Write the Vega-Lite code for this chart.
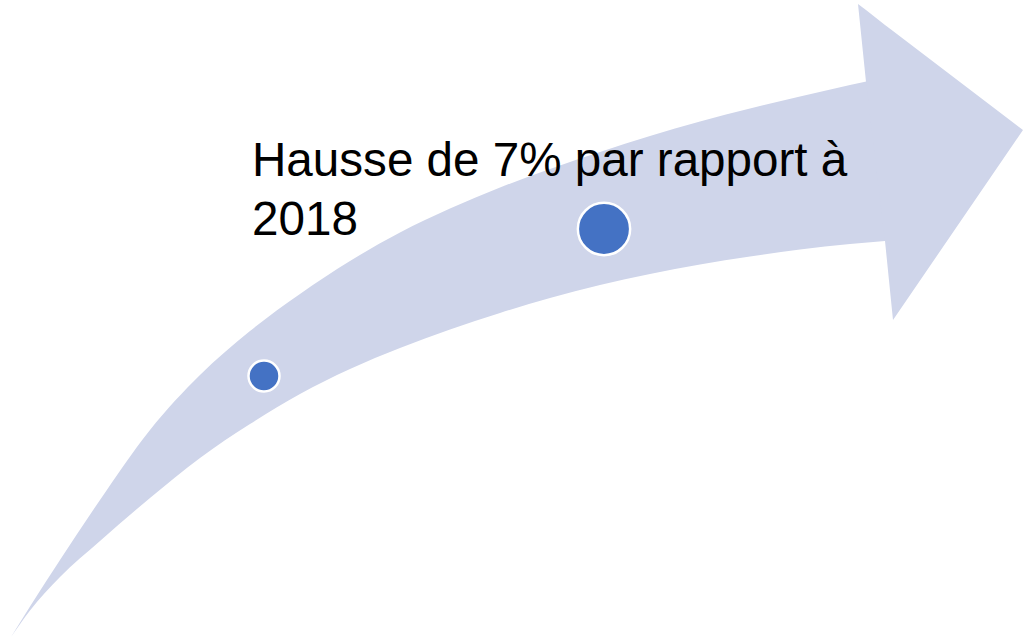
{
  "$schema": "https://vega.github.io/schema/vega-lite/v6.json",
  "width": 1025,
  "height": 638,
  "padding": 0,
  "autosize": {"type": "none"},
  "background": "white",
  "config": {"view": {"stroke": null}},
  "datasets": {
    "body": [
      {"x": 11, "top": 1, "bottom": 1},
      {"x": 30, "top": 31.4, "bottom": 27.6},
      {"x": 60, "top": 78, "bottom": 61},
      {"x": 100, "top": 138, "bottom": 97},
      {"x": 150, "top": 208, "bottom": 140},
      {"x": 200, "top": 263, "bottom": 180},
      {"x": 250, "top": 307, "bottom": 214},
      {"x": 300, "top": 344, "bottom": 244},
      {"x": 350, "top": 377, "bottom": 269},
      {"x": 400, "top": 405.5, "bottom": 290},
      {"x": 450, "top": 429.5, "bottom": 308.5},
      {"x": 500, "top": 450.5, "bottom": 325},
      {"x": 550, "top": 469, "bottom": 340},
      {"x": 600, "top": 486, "bottom": 353},
      {"x": 650, "top": 502, "bottom": 364},
      {"x": 700, "top": 516.5, "bottom": 373.5},
      {"x": 750, "top": 529.5, "bottom": 381.5},
      {"x": 800, "top": 541.5, "bottom": 388.5},
      {"x": 850, "top": 553, "bottom": 394},
      {"x": 885, "top": 560.5, "bottom": 397}
    ],
    "head": [
      {"x": 858, "top": 634, "bottom": 634},
      {"x": 866, "top": 628, "bottom": 556},
      {"x": 885, "top": 613, "bottom": 397},
      {"x": 893, "top": 607, "bottom": 318},
      {"x": 1023, "top": 508, "bottom": 508}
    ],
    "dots": [
      {"x": 264, "y": 262, "size": 962},
      {"x": 604, "y": 409, "size": 2734}
    ],
    "labels": [
      {"x": 252, "y": 462, "text": "Hausse de 7% par rapport à"},
      {"x": 252, "y": 403, "text": "2018"}
    ]
  },
  "encoding": {
    "x": {"type": "quantitative", "scale": {"domain": [0, 1025], "nice": false, "zero": false}, "axis": null}
  },
  "layer": [
    {
      "data": {"name": "body"},
      "mark": {"type": "area", "color": "#cfd5ea", "interpolate": "monotone"},
      "encoding": {
        "x": {"field": "x", "type": "quantitative"},
        "y": {"field": "top", "type": "quantitative", "scale": {"domain": [0, 638], "nice": false, "zero": false}, "axis": null},
        "y2": {"field": "bottom"}
      }
    },
    {
      "data": {"name": "head"},
      "mark": {"type": "area", "color": "#cfd5ea", "interpolate": "linear"},
      "encoding": {
        "x": {"field": "x", "type": "quantitative"},
        "y": {"field": "top", "type": "quantitative"},
        "y2": {"field": "bottom"}
      }
    },
    {
      "data": {"name": "dots"},
      "mark": {"type": "point", "shape": "circle", "filled": true, "fill": "#4472c4", "stroke": "white", "strokeWidth": 2.5, "opacity": 1},
      "encoding": {
        "x": {"field": "x", "type": "quantitative"},
        "y": {"field": "y", "type": "quantitative"},
        "size": {"field": "size", "type": "quantitative", "scale": null, "legend": null}
      }
    },
    {
      "data": {"name": "labels"},
      "mark": {"type": "text", "align": "left", "baseline": "alphabetic", "font": "Liberation Sans", "fontSize": 47.6, "color": "black"},
      "encoding": {
        "x": {"field": "x", "type": "quantitative"},
        "y": {"field": "y", "type": "quantitative"},
        "text": {"field": "text"}
      }
    }
  ],
  "resolve": {"scale": {"x": "shared", "y": "shared"}}
}
